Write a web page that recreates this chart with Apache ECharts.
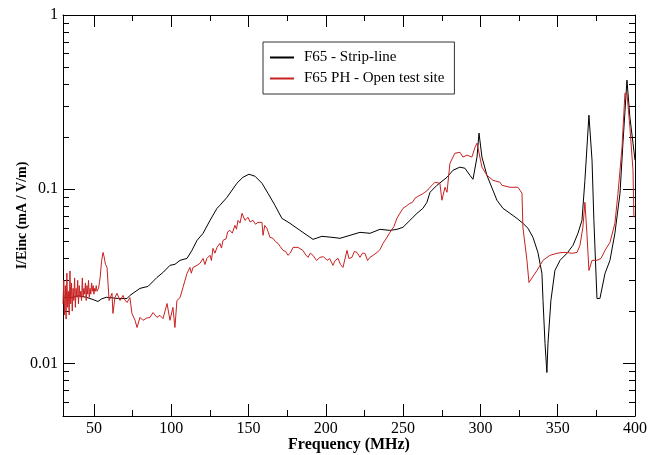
<!DOCTYPE html>
<html>
<head>
<meta charset="utf-8">
<script src="https://cdn.jsdelivr.net/npm/echarts@6/dist/echarts.min.js"></script>
<style>
  html, body { margin: 0; padding: 0; background: #fff; }
  #chart { width: 649px; height: 455px; }
</style>
</head>
<body>
<div id="chart"></div>
<script>
// tick values
const xMajor = [50, 100, 150, 200, 250, 300, 350, 400];
const xMinor = [75, 125, 175, 225, 275, 325, 375];
const yMajor = [0.01, 0.1, 1];
const yMinor = [0.006, 0.007, 0.008, 0.009, 0.02, 0.03, 0.04, 0.05, 0.06, 0.07, 0.08, 0.09,
  0.2, 0.3, 0.4, 0.5, 0.6, 0.7, 0.8, 0.9];

// F65 - Strip-line
const stripFreq = [30, 35, 40, 45, 49.4, 52.6, 55, 58, 60.4, 66, 71.4, 73.3, 76.6, 79.8, 85, 90.8, 95, 99.2,
  102.4, 105.7, 110.2, 113.4, 116.7, 120.6, 125.1, 129.6, 131.5, 136.1, 142.5, 146.4, 150.3, 154.2, 158.7,
  162.6, 167.1, 171.6, 176.8, 183.3, 191.7, 197.5, 204, 209.2, 215.6, 222.1, 228.6, 235, 241.5, 246, 249.9,
  254.4, 259, 262.8, 265.4, 267.4, 271.9, 278.4, 282.3, 286.8, 290, 293.2, 295.2, 297.8, 299.1, 301, 304.2,
  308.1, 310.7, 314.6, 319.1, 323.6, 327.5, 330.8, 334, 337.2, 339.8, 340.5, 341.8, 343, 343.7, 345.6, 348.2,
  351.5, 356, 359.9, 363.1, 365.7, 367.6, 370.2, 372.2, 373.4, 375.4, 377.3, 380.6, 383.8, 387, 390.3, 392.2,
  394.8, 396.7, 398.7, 400];
const stripVal = [0.024, 0.0238, 0.0245, 0.024, 0.0233, 0.0227, 0.0235, 0.024, 0.0239, 0.0236, 0.0236, 0.0246,
  0.0258, 0.027, 0.0277, 0.0312, 0.0335, 0.0366, 0.0371, 0.0391, 0.0401, 0.0446, 0.0509, 0.0559, 0.0663,
  0.0777, 0.0809, 0.0899, 0.1083, 0.1172, 0.122, 0.1188, 0.1083, 0.0948, 0.0809, 0.0681, 0.0638, 0.0581,
  0.0516, 0.0537, 0.053, 0.0523, 0.0544, 0.0566, 0.0559, 0.0589, 0.0581, 0.0589, 0.0605, 0.0663, 0.0728,
  0.0777, 0.0842, 0.0961, 0.1054, 0.1172, 0.1286, 0.134, 0.132, 0.1203, 0.1141, 0.153, 0.21, 0.153, 0.1203,
  0.0987, 0.0865, 0.0777, 0.0728, 0.0681, 0.0638, 0.0597, 0.053, 0.0434, 0.0329, 0.023, 0.013, 0.00888,
  0.013, 0.023, 0.0342, 0.0391, 0.0429, 0.0477, 0.0559, 0.0663, 0.1126, 0.266, 0.147, 0.0663, 0.0236,
  0.0236, 0.0329, 0.0391, 0.0559, 0.0948, 0.184, 0.423, 0.259, 0.184, 0.147];

// F65 PH - Open test site
const openFreq = [30, 30.5, 31, 31.5, 32, 32.5, 33, 33.5, 34, 34.5, 35, 35.5, 36, 36.5, 37, 37.5, 38, 38.5,
  39, 39.5, 40, 40.5, 41, 41.5, 42, 42.5, 43, 43.5, 44, 44.5, 45, 45.5, 46, 46.5, 47, 47.5, 48, 48.5, 49,
  49.5, 50, 50.5, 51, 51.5, 52, 53, 54, 55, 55.9, 56.6, 57.5, 58.5, 59.8, 61.7, 62.3, 63.6, 64.9, 66.9,
  68.8, 70, 71.4, 73.3, 74.6, 76.6, 77.9, 79.8, 81.7, 84, 86.3, 88.2, 90.8, 92.7, 94.7, 97.3, 99.2, 101.1,
  102.4, 103.7, 105.7, 107.6, 110.2, 112.1, 113, 114.1, 116.7, 118.6, 120.6, 121.8, 123.1, 125.1, 126, 127,
  128.3, 129.6, 131.5, 132.5, 133.5, 135.5, 136.5, 138, 139.5, 141.2, 142.2, 143.2, 144.5, 145.8, 147.7,
  149.7, 151, 152.9, 154.5, 156.1, 158.7, 159.4, 160.5, 161.9, 163.9, 165.8, 167.5, 169.1, 170.5, 172.3,
  174, 175.5, 177, 178.8, 182, 185.2, 187, 188.5, 190, 191.7, 194, 196.2, 198.5, 200.8, 202.5, 204.6, 206,
  207.9, 209.5, 211.1, 213.7, 215, 216.9, 218.5, 220.2, 222.1, 223.7, 225.3, 227, 228.6, 231, 233.1, 235,
  237, 239, 241.5, 244, 246, 248, 249.9, 252, 254.4, 256, 257.7, 259.5, 260.9, 262.5, 264.1, 266, 267.4,
  269, 270.6, 273.8, 275.1, 277.1, 278.4, 280.3, 283.5, 286.8, 288.7, 291.3, 294.5, 296.5, 297.8, 301,
  304.2, 308.1, 312.6, 313.9, 319.1, 324.3, 326.9, 327.5, 330.1, 331.4, 336.6, 340.5, 345, 349.5, 352.8,
  356, 359.2, 362.5, 364.4, 366.3, 367.6, 368.9, 370.2, 372.2, 375.4, 378, 380.6, 383.8, 387, 389, 391.6,
  393.5, 394.8, 396.7, 398.7, 399.3];
const openVal = [0.022, 0.03, 0.019, 0.028, 0.018, 0.033, 0.021, 0.026, 0.019, 0.034, 0.022, 0.029, 0.02,
  0.027, 0.023, 0.031, 0.021, 0.027, 0.024, 0.03, 0.022, 0.028, 0.024, 0.026, 0.023, 0.031, 0.024, 0.027,
  0.025, 0.029, 0.023, 0.028, 0.025, 0.03, 0.024, 0.027, 0.025, 0.029, 0.026, 0.028, 0.025, 0.027, 0.026,
  0.028, 0.026, 0.027, 0.031, 0.039, 0.0434, 0.041, 0.037, 0.0356, 0.023, 0.0253, 0.0194, 0.0239, 0.0253,
  0.023, 0.0246, 0.0232, 0.0224, 0.0239, 0.0194, 0.0177, 0.0161, 0.0184, 0.0177, 0.0182, 0.0184, 0.0196,
  0.0184, 0.0189, 0.0181, 0.0221, 0.0177, 0.021, 0.0161, 0.023, 0.0239, 0.0273, 0.0329, 0.0356, 0.033,
  0.0356, 0.0366, 0.0376, 0.0401, 0.037, 0.0401, 0.0418, 0.039, 0.0458, 0.043, 0.0464, 0.0489, 0.046,
  0.0509, 0.052, 0.057, 0.0581, 0.056, 0.0621, 0.059, 0.0663, 0.064, 0.0728, 0.0663, 0.069, 0.065, 0.0663,
  0.063, 0.0646, 0.0646, 0.0544, 0.062, 0.0597, 0.053, 0.0523, 0.05, 0.0489, 0.047, 0.0446, 0.044, 0.0418,
  0.043, 0.0464, 0.0464, 0.0446, 0.042, 0.0407, 0.043, 0.0418, 0.039, 0.0407, 0.041, 0.0391, 0.04, 0.0366,
  0.039, 0.0401, 0.037, 0.0356, 0.0446, 0.04, 0.0407, 0.044, 0.0434, 0.0407, 0.043, 0.0429, 0.039, 0.0407,
  0.042, 0.0434, 0.045, 0.0489, 0.052, 0.0566, 0.061, 0.0681, 0.073, 0.0777, 0.08, 0.0831, 0.084, 0.0888,
  0.091, 0.0924, 0.094, 0.0961, 0.099, 0.1027, 0.106, 0.1097, 0.1083, 0.0865, 0.1027, 0.0961, 0.141, 0.161,
  0.163, 0.153, 0.157, 0.153, 0.174, 0.184, 0.134, 0.1203, 0.1126, 0.1097, 0.1054, 0.1027, 0.1027, 0.0948,
  0.0605, 0.0391, 0.0292, 0.0342, 0.0391, 0.0418, 0.0429, 0.0434, 0.0434, 0.0429, 0.0434, 0.0477, 0.0605,
  0.0842, 0.0559, 0.0342, 0.0391, 0.0391, 0.0401, 0.0446, 0.0496, 0.0638, 0.0948, 0.174, 0.356, 0.356,
  0.227, 0.1286, 0.069];

const FONT = 'Liberation Serif';
const axisColor = '#000';
const redColor = '#c82020';

function xAx(pos, ticks, len, withLabel) {
  return {
    type: 'value', min: 30, max: 400, position: pos,
    axisLine: { show: withLabel !== null, onZero: false, lineStyle: { color: axisColor, width: 1 } },
    axisTick: { inside: true, length: len, customValues: ticks, lineStyle: { color: axisColor } },
    axisLabel: withLabel ? { customValues: xMajor, color: '#000', fontFamily: FONT, fontSize: 16, margin: 5 } : { show: false },
    splitLine: { show: false }
  };
}

function yAx(pos, ticks, len, withLabel) {
  return {
    type: 'log', logBase: 10, min: 0.005, max: 1, position: pos,
    axisLine: { show: withLabel !== null, onZero: false, lineStyle: { color: axisColor, width: 1 } },
    axisTick: { inside: true, length: len, customValues: ticks, lineStyle: { color: axisColor } },
    axisLabel: withLabel ? {
      customValues: yMajor, color: '#000', fontFamily: FONT, fontSize: 16, margin: 5,
      formatter: v => String(parseFloat(Number(v).toPrecision(6)))
    } : { show: false },
    splitLine: { show: false }
  };
}

const xAxes = [xAx('bottom', xMajor, 12, true), xAx('bottom', xMinor, 6, null),
  xAx('top', xMajor, 12, false), xAx('top', xMinor, 6, null)];
Object.assign(xAxes[0], {
  name: 'Frequency (MHz)', nameLocation: 'middle', nameGap: 21, nameMoveOverlap: false,
  nameTextStyle: { color: '#000', fontFamily: FONT, fontSize: 16, fontWeight: 'bold' }
});

const yAxes = [yAx('left', yMajor, 12, true), yAx('left', yMinor, 6, null),
  yAx('right', yMajor, 12, false), yAx('right', yMinor, 6, null)];
Object.assign(yAxes[0], {
  name: 'I/Einc (mA / V/m)', nameLocation: 'middle', nameGap: 34, nameRotate: 90, nameMoveOverlap: false,
  nameTextStyle: { color: '#000', fontFamily: FONT, fontSize: 14, fontWeight: 'bold' }
});

const chart = echarts.init(document.getElementById('chart'), null, { renderer: 'canvas' });
chart.setOption({
  animation: false,
  backgroundColor: '#fff',
  grid: { left: 63, right: 14, top: 15, bottom: 39, containLabel: false, outerBoundsMode: 'none' },
  legend: {
    orient: 'vertical', left: 263, top: 42,
    padding: [8, 10, 8, 6], itemWidth: 24, itemHeight: 14, itemGap: 6,
    borderColor: '#333', borderWidth: 1, backgroundColor: '#fff',
    itemStyle: { opacity: 0 },
    textStyle: { color: '#000', fontFamily: FONT, fontSize: 15, padding: [0, 0, 0, 5] },
    data: ['F65 - Strip-line', 'F65 PH - Open test site']
  },
  xAxis: xAxes,
  yAxis: yAxes,
  series: [
    {
      name: 'F65 - Strip-line', type: 'line', symbol: 'none', xAxisIndex: 0, yAxisIndex: 0,
      lineStyle: { color: '#000', width: 1 }, itemStyle: { color: '#000' },
      data: stripFreq.map((f, i) => [f, stripVal[i]])
    },
    {
      name: 'F65 PH - Open test site', type: 'line', symbol: 'none', xAxisIndex: 0, yAxisIndex: 0,
      lineStyle: { color: redColor, width: 1 }, itemStyle: { color: redColor },
      data: openFreq.map((f, i) => [f, openVal[i]])
    }
  ]
});
</script>
</body>
</html>
